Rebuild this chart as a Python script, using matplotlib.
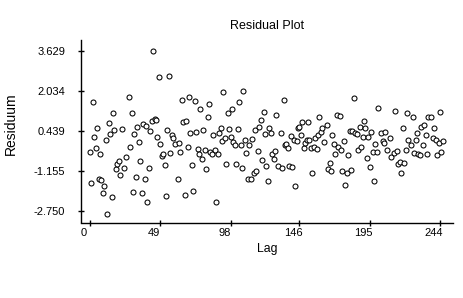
import matplotlib
matplotlib.use("Agg")
import matplotlib.pyplot as plt
import matplotlib.transforms as mtransforms

lags = [0, 1, 2, 3, 4, 5, 6, 7, 8, 9, 10, 11, 12, 13, 14, 15, 16, 17, 18, 19,
        20, 21, 22, 24, 25, 27, 28, 29, 30, 31, 32, 33, 34, 35, 36, 37, 38, 39,
        40, 41, 42, 43, 44, 45, 46, 47, 48, 49, 50, 51, 52, 53, 54, 55, 56, 57,
        58, 59, 61, 62, 63, 64, 65, 66, 67, 68, 69, 70, 71, 72, 73, 74, 75, 76,
        77, 78, 79, 80, 81, 82, 83, 84, 85, 86, 87, 88, 89, 90, 91, 92, 93, 94,
        95, 96, 97, 98, 99, 100, 101, 102, 103, 104, 105, 106, 107, 108, 109,
        110, 111, 112, 113, 114, 115, 116, 117, 118, 119, 120, 121, 122, 123,
        124, 125, 126, 127, 128, 129, 130, 131, 133, 134, 135, 136, 137, 138,
        139, 140, 141, 142, 143, 144, 145, 146, 147, 148, 149, 150, 151, 152,
        153, 154, 155, 156, 157, 158, 159, 160, 161, 162, 163, 165, 166, 167,
        168, 169, 170, 171, 172, 173, 174, 175, 176, 177, 178, 179, 180, 181,
        182, 183, 184, 185, 186, 187, 188, 189, 190, 191, 192, 193, 194, 195,
        196, 197, 198, 199, 200, 201, 203, 204, 205, 206, 207, 209, 210, 212,
        213, 214, 215, 216, 217, 218, 219, 220, 221, 222, 224, 225, 226, 227,
        228, 229, 230, 231, 232, 233, 234, 235, 236, 238, 239, 240, 241, 242,
        243, 244, 245, 246]

residuals = [-0.40, -1.63, 1.60, 0.20, -0.24, 0.56, -1.49, -0.49, -1.53, -2.06,
             -1.75, 0.07, -2.87, 0.76, 0.31, -2.19, 1.16, 0.47, -1.10, -0.90,
             -0.76, -1.32, 0.52, -1.06, -0.60, 1.77, -0.20, 1.13, -1.99, 0.31,
             -1.40, 0.60, 0.00, -0.77, -2.03, 0.71, -1.48, 0.63, -2.39, -1.04,
             0.43, 0.82, 3.62, 0.89, 0.86, 0.17, 2.59, -0.09, -0.57, -0.49,
             -0.92, -2.15, 0.48, 2.63, -0.44, 0.27, 0.13, -0.09, -1.48, -0.04,
             -0.40, 1.68, 0.80, -2.13, 0.84, -0.20, 1.80, 0.33, -0.92, -1.95,
             1.64, 0.39, -0.27, -0.47, 1.32, -0.68, 0.47, -0.33, -1.09, 1.00,
             1.52, -0.41, -0.49, 0.27, -0.33, -2.39, -0.50, 0.33, 0.53, 0.04,
             1.99, 0.13, -0.89, 1.16, 0.52, 0.20, 1.32, 0.00, -0.15, -0.88,
             0.52, 1.60, -0.12, -1.04, 2.03, 0.07, -0.45, -1.48, -0.12, -1.48,
             0.12, -1.24, 0.48, -1.16, -0.36, 0.60, 0.86, -0.73, 1.18, 0.29,
             -0.96, -1.55, 0.56, 0.36, -0.50, -0.70, -0.36, 1.06, -0.96, 0.33,
             -1.06, 1.66, -0.13, -0.09, -0.24, -0.96, 0.23, -1.00, 0.07, -1.75,
             0.04, 0.53, 0.57, 0.27, 0.78, -0.24, -0.07, 0.07, 0.80, 0.07,
             -0.25, -1.26, -0.20, 0.13, -0.27, 0.25, 1.00, 0.37, 0.53, 0.00,
             0.67, -1.08, -0.86, -1.16, 0.28, -0.09, -0.47, 1.05, -0.20, 1.02,
             -0.31, -1.16, 0.04, -1.73, -1.24, -0.54, 0.43, -1.13, 0.43, 1.76,
             0.33, 0.29, -0.33, 0.57, -0.20, 0.20, 0.84, 0.53, -0.64, 0.20,
             -1.02, 0.37, -0.40, -1.55, -0.11, -0.40, 1.36, 0.36, 0.01, -0.07,
             0.40, -0.33, 0.16, -0.62, -0.43, 1.24, -0.36, -0.89, -0.80, -1.26,
             0.56, -0.86, -0.31, 1.16, 0.07, -0.15, 0.97, -0.44, 0.07, 0.36,
             -0.49, -0.54, 0.60, -0.15, 0.68, 0.27, -0.47, 0.97, 0.97, 0.13,
             0.56, 0.07, -0.53, -0.07, 1.18, -0.40, 0.04]

x_ticks = [0, 49, 98, 146, 195, 244]
y_ticks = [-2.750, -1.155, 0.439, 2.034, 3.629]
y_tick_labels = ["-2.750", "-1.155", "0.439", "2.034", "3.629"]

plt.rcParams['font.family'] = ['Liberation Sans', 'DejaVu Sans']

W, H = 463, 298
fig = plt.figure(figsize=(W / 100, H / 100), dpi=100)
ax = fig.add_axes([80.7 / W, 1 - 222.5 / H, (453 - 80.7) / W, (222.5 - 40) / H])

ax.plot(lags, residuals, linestyle='none', marker='o', markersize=3.6,
        markerfacecolor='white', markeredgecolor='black', markeredgewidth=0.75)

ax.set_xlim(-6.5, 253.1)
ax.set_ylim(-3.22, 4.056)
ax.set_xticks(x_ticks)
ax.set_xticklabels([str(t) for t in x_ticks])
ax.set_yticks(y_ticks)
ax.set_yticklabels(y_tick_labels)

for s in ['top', 'right']:
    ax.spines[s].set_visible(False)
for s in ['left', 'bottom']:
    ax.spines[s].set_linewidth(1.0)
    ax.spines[s].set_color('black')

ax.tick_params(axis='x', direction='inout', length=4.5, width=1.0, pad=2,
               labelsize=8, colors='black')
ax.tick_params(axis='y', direction='inout', length=4.5, width=1.0, pad=9,
               labelsize=8, colors='black')

offset = mtransforms.ScaledTranslation(-6 / 100, 0, fig.dpi_scale_trans)
for lab in ax.get_xticklabels():
    lab.set_transform(lab.get_transform() + offset)

ax.set_title("Residual Plot", fontsize=9, pad=8)
ax.set_xlabel("Lag", fontsize=8.8, labelpad=3)
ax.set_ylabel("Residuum", fontsize=10)
ax.yaxis.set_label_coords(-0.168, 0.54)

fig.savefig("out.png", dpi=100, facecolor='white')
